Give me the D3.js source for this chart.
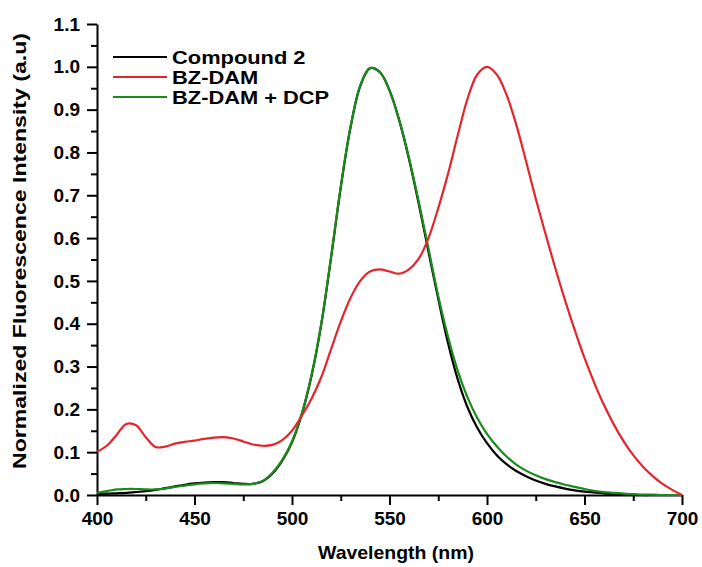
<html>
<meta charset="utf-8" />
<head>
<title>Normalized Fluorescence</title>
<style>
body {
  margin: 0;
  background: white;
}

svg text {
  font-family: "Liberation Sans", Arial, sans-serif;
  font-weight: bold;
  fill: black;
}

.axis path, .axis line {
  stroke: black;
  stroke-width: 2px;
}

.axis text {
  font-size: 19px;
}
</style>
<script src="https://cdn.jsdelivr.net/npm/d3@7"></script>
</head>

<body>
<svg class="chart" width="702" height="567"></svg>

<script>
/********
 * Data *
 ********/

var wavelength = [400,405,410,415,420,425,430,435,440,445,450,455,460,465,470,475,480,485,490,495,
                  500,505,510,515,520,525,530,535,540,545,550,555,560,565,570,575,580,585,590,595,
                  600,605,610,615,620,625,630,635,640,645,650,655,660,665,670,675,680,685,690,695,700];

var compound2 = [0.002,0.003,0.004,0.005,0.007,0.009,0.012,0.016,0.020,0.024,0.027,0.029,0.030,0.030,0.028,0.026,0.026,0.032,0.050,0.080,
                 0.123,0.188,0.278,0.398,0.553,0.718,0.858,0.955,0.997,0.988,0.945,0.875,0.785,0.680,0.568,0.458,0.355,0.270,0.205,0.157,
                 0.121,0.093,0.072,0.056,0.044,0.034,0.026,0.020,0.015,0.011,0.008,0.006,0.004,0.003,0.002,0.001,0,0,0,0,0];

var bzDam = [0.101,0.115,0.140,0.166,0.163,0.135,0.112,0.113,0.120,0.124,0.127,0.131,0.134,0.135,0.132,0.125,0.118,0.115,0.117,0.128,
             0.150,0.185,0.225,0.275,0.340,0.405,0.460,0.500,0.522,0.527,0.522,0.517,0.527,0.552,0.600,0.670,0.750,0.840,0.925,0.982,
             1.000,0.982,0.935,0.865,0.780,0.692,0.610,0.530,0.455,0.385,0.320,0.262,0.210,0.165,0.126,0.093,0.066,0.044,0.026,0.012,0];

var bzDamDcp = [0.005,0.009,0.013,0.014,0.014,0.013,0.013,0.015,0.019,0.022,0.025,0.027,0.028,0.027,0.026,0.025,0.026,0.033,0.052,0.082,
                0.125,0.190,0.280,0.400,0.555,0.720,0.860,0.956,0.997,0.988,0.945,0.875,0.787,0.685,0.575,0.465,0.370,0.290,0.228,0.180,
                0.143,0.114,0.090,0.071,0.057,0.046,0.037,0.030,0.024,0.019,0.014,0.010,0.007,0.005,0.003,0.002,0.001,0.001,0,0,0];

var seriesNames = ["Compound 2", "BZ-DAM", "BZ-DAM + DCP"];
var seriesColors = ["#000000", "#e3262b", "#1a8a1a"];

var xTicks = [400,450,500,550,600,650,700];
var yTicks = [0,0.1,0.2,0.3,0.4,0.5,0.6,0.7,0.8,0.9,1.0,1.1];

/**********
 * Scales *
 **********/

var x = d3.scaleLinear().domain([400,700]).range([97,682]);
var y = d3.scaleLinear().domain([0,1.1]).range([495,24]);

var svg = d3.select(".chart");

/********
 * Axes *
 ********/

// minor ticks first (no labels)
svg.append("g")
    .attr("class","axis")
    .attr("transform","translate(0,495)")
    .call(d3.axisBottom(x).tickValues(xTicks.slice(1).map(function(d){ return d - 25; })).tickSize(6).tickFormat(""))
    .select(".domain").remove();

svg.append("g")
    .attr("class","axis")
    .attr("transform","translate(97,0)")
    .call(d3.axisLeft(y).tickValues(yTicks.slice(1).map(function(d){ return d - 0.05; })).tickSize(6).tickFormat(""))
    .select(".domain").remove();

svg.append("g")
    .attr("class","axis")
    .attr("transform","translate(0,495)")
    .call(d3.axisBottom(x).tickValues(xTicks).tickSize(10).tickSizeOuter(0).tickPadding(7));

svg.append("g")
    .attr("class","axis")
    .attr("transform","translate(97,0)")
    .call(d3.axisLeft(y).tickValues(yTicks).tickSize(10).tickSizeOuter(0).tickPadding(7).tickFormat(d3.format(".1f")));

svg.append("text")
    .attr("x",396)
    .attr("y",559)
    .attr("text-anchor","middle")
    .attr("textLength",156)
    .attr("lengthAdjust","spacingAndGlyphs")
    .style("font-size","19px")
    .text("Wavelength (nm)");

svg.append("text")
    .attr("transform","translate(26,251) rotate(-90)")
    .attr("text-anchor","middle")
    .attr("textLength",436)
    .attr("lengthAdjust","spacingAndGlyphs")
    .style("font-size","18px")
    .text("Normalized Fluorescence Intensity (a.u)");

/*********
 * Lines *
 *********/

var line = d3.line()
    .x(function(d){ return x(d[0]); })
    .y(function(d){ return y(d[1]); })
    .curve(d3.curveCatmullRom.alpha(0.5));

var allSeries = [compound2, bzDam, bzDamDcp];
var drawOrder = [0, 2, 1];

drawOrder.forEach(function(i){
  svg.append("path")
      .datum(wavelength.map(function(w,j){ return [w, allSeries[i][j]]; }))
      .attr("fill","none")
      .attr("stroke",seriesColors[i])
      .attr("stroke-width",2.2)
      .attr("d",line);
});

/**********
 * Legend *
 **********/

var legend = svg.append("g").attr("transform","translate(113,57)");

seriesNames.forEach(function(name,i){
  legend.append("line")
      .attr("x1",0).attr("x2",54)
      .attr("y1",i*20).attr("y2",i*20)
      .attr("stroke",seriesColors[i])
      .attr("stroke-width",2.2);
  var t = legend.append("text")
      .attr("x",59)
      .attr("y",i*20 + 7)
      .style("font-size","19px")
      .text(name);
  // reference text is a little wider than the font at this size
  t.attr("textLength", t.node().getComputedTextLength()*1.15)
      .attr("lengthAdjust","spacingAndGlyphs");
});
</script>
</body>
</html>
